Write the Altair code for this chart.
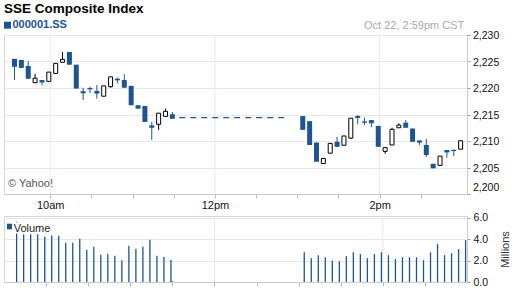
import altair as alt
import pandas as pd

BLUE = "#1c5590"
FONT = "Liberation Sans"
GRID = "#e4e8ee"
FRAME = "#d6d6d6"

title_text = "SSE Composite Index"
symbol_text = "000001.SS"
stamp_text = "Oct 22, 2:59pm CST"
credit_text = "\u00a9 Yahoo!"
volume_label = "Volume"
volume_title = "Millions"

candle_time = [
    "9:34", "9:39", "9:44", "9:49", "9:54", "9:59", "10:04", "10:09", "10:14", "10:19",
    "10:24", "10:29", "10:34", "10:39", "10:44", "10:49", "10:54", "10:59", "11:04", "11:09",
    "11:14", "11:19", "11:24", "11:29",
    "13:04", "13:09", "13:14", "13:19", "13:24", "13:29", "13:34", "13:39", "13:44", "13:49",
    "13:54", "13:59", "14:04", "14:09", "14:14", "14:19", "14:24", "14:29", "14:34", "14:39",
    "14:44", "14:49", "14:54", "14:59",
]
open_ = [
    2225.5, 2225.3, 2224.15, 2221.0, 2221.5, 2221.25, 2222.75, 2224.85, 2226.8, 2224.4,
    2219.4, 2220.0, 2219.45, 2218.45, 2220.25, 2221.75, 2221.5, 2220.4, 2216.75, 2216.6,
    2212.95, 2213.15, 2214.65, 2215.05,
    2214.7, 2213.75, 2209.7, 2205.75, 2207.7, 2209.85, 2209.2, 2210.55, 2214.7, 2213.7,
    2213.95, 2212.85, 2208.05, 2209.25, 2212.5, 2213.45, 2212.35, 2210.1, 2209.25, 2205.7,
    2205.4, 2208.3, 2208.35, 2208.45,
]
close = [
    2224.0, 2223.8, 2221.75, 2221.85, 2221.05, 2223.0, 2224.65, 2225.4, 2224.4, 2219.9,
    2219.0, 2219.75, 2218.95, 2220.4, 2222.1, 2221.45, 2220.05, 2216.75, 2216.1, 2213.6,
    2212.5, 2215.25, 2215.6, 2214.2,
    2212.1, 2209.25, 2206.1, 2206.7, 2209.55, 2208.9, 2210.95, 2214.3, 2214.35, 2213.45,
    2213.35, 2208.9, 2208.75, 2212.2, 2213.0, 2212.5, 2209.85, 2209.7, 2207.35, 2204.85,
    2207.15, 2207.85, 2208.1, 2210.05,
]
high = [
    2225.5, 2225.3, 2225.1, 2222.7, 2221.5, 2223.0, 2224.65, 2226.8, 2226.8, 2224.4,
    2220.05, 2220.25, 2220.55, 2220.4, 2222.1, 2221.95, 2222.6, 2220.4, 2216.75, 2216.6,
    2213.6, 2215.25, 2216.1, 2215.45,
    2214.7, 2213.75, 2209.7, 2206.7, 2209.55, 2210.8, 2210.95, 2214.3, 2214.9, 2214.4,
    2213.95, 2212.85, 2208.75, 2212.5, 2213.35, 2213.95, 2212.35, 2210.1, 2210.4, 2205.7,
    2207.15, 2208.3, 2208.35, 2210.05,
]
low = [
    2221.5, 2223.8, 2221.75, 2221.0, 2220.5, 2221.25, 2222.75, 2224.85, 2224.4, 2219.9,
    2217.75, 2219.05, 2218.0, 2218.45, 2220.05, 2220.9, 2220.05, 2216.75, 2216.1, 2213.6,
    2210.2, 2212.1, 2214.65, 2214.2,
    2212.1, 2209.25, 2206.1, 2205.65, 2207.7, 2208.9, 2209.2, 2210.4, 2213.15, 2213.0,
    2212.6, 2208.9, 2207.6, 2209.25, 2212.5, 2212.5, 2209.85, 2209.25, 2207.0, 2204.85,
    2205.4, 2206.85, 2207.15, 2208.45,
]

volume_time = [
    "9:39", "9:44", "9:49", "9:54", "9:59", "10:04", "10:09", "10:14", "10:19", "10:24",
    "10:29", "10:34", "10:39", "10:44", "10:49", "10:54", "10:59", "11:04", "11:09", "11:14",
    "11:19", "11:24", "11:29", "11:30",
    "13:04", "13:09", "13:14", "13:19", "13:24", "13:29", "13:34", "13:39", "13:44", "13:49",
    "13:54", "13:59", "14:04", "14:09", "14:14", "14:19", "14:24", "14:29", "14:34", "14:39",
    "14:44", "14:49", "14:54", "14:59",
]
volume_millions = [
    5.6, 4.44, 4.44, 4.44, 4.22, 4.34, 4.31, 3.66, 3.66, 4.03,
    3.0, 3.28, 2.53, 2.62, 2.44, 2.03, 3.37, 3.09, 3.28, 3.94,
    2.44, 2.34, 2.06, 0.07,
    2.78, 2.22, 2.5, 2.31, 2.0, 1.94, 2.41, 2.78, 2.6, 2.22,
    2.6, 2.78, 2.5, 2.13, 2.31, 2.31, 2.31, 2.03, 2.78, 3.53,
    2.5, 2.69, 3.06, 3.9,
]

lunch_start = ["11:34"]
lunch_end = ["12:54"]
lunch_level = [2214.4]

grid_times = ["10:00", "12:00", "14:00"]
tick_times = ["10:00", "10:30", "11:00", "11:30", "12:00", "12:30", "13:00", "13:30",
              "14:00", "14:30"]
tick_names = {"10:00": "10am", "12:00": "12pm", "14:00": "2pm"}
price_domain = [2200, 2230]
price_ticks = [2200, 2205, 2210, 2215, 2220, 2225, 2230]
volume_ticks = [0, 2, 4, 6]


def minutes(t):
    h, m = t.split(":")
    return int(h) * 60 + int(m) - (9 * 60 + 30)


candles = pd.DataFrame({
    "t": [minutes(t) for t in candle_time],
    "open": open_, "close": close, "high": high, "low": low,
})
candles["dir"] = ["down" if c < o else "up" for o, c in zip(open_, close)]
vol = pd.DataFrame({"t": [minutes(t) for t in volume_time], "v": volume_millions})
lunch = pd.DataFrame({"t0": [minutes(t) for t in lunch_start],
                      "t1": [minutes(t) for t in lunch_end], "y": lunch_level})
vgrid = pd.DataFrame({"t": [minutes(t) for t in grid_times]})
plabels = pd.DataFrame({"p": price_ticks})

tick_vals = [minutes(t) for t in tick_times]
label_expr = " : ".join(
    f"datum.value == {minutes(k)} ? '{v}'" for k, v in tick_names.items()) + " : ''"

xscale = alt.Scale(domain=[0, 330], nice=False, zero=False)
x_axis_top = alt.Axis(values=tick_vals, labelExpr=label_expr, grid=False, title=None,
                      tickSize=4, tickColor="#bbbbbb", domainColor="#cccccc",
                      labelFont=FONT, labelFontSize=11, labelColor="#111111",
                      labelPadding=1, labelFlush=False)
x_axis_bottom = alt.Axis(values=tick_vals, labels=False, grid=False, title=None,
                         tickSize=4, tickColor="#bbbbbb", domainColor="#cccccc")

pscale = alt.Scale(domain=price_domain, nice=False, zero=False)
p_axis = alt.Axis(orient="right", values=price_ticks, labels=False, title=None,
                  grid=True, gridColor=GRID, tickSize=3, tickColor="#999999",
                  domainColor="#cccccc")


def xt(field="t"):
    return alt.X(f"{field}:Q", scale=xscale, axis=x_axis_top)


def yp(field):
    return alt.Y(f"{field}:Q", scale=pscale, axis=p_axis)


W, H1, H2 = 463, 159, 66

rules_top = alt.Chart(vgrid).mark_rule(color=GRID).encode(x=xt())

wicks = alt.Chart(candles).mark_rule(strokeWidth=1).encode(
    x=xt(),
    y=yp("low"),
    y2="high:Q",
    color=alt.Color("dir:N", scale=alt.Scale(domain=["down", "up"], range=[BLUE, "#000000"]),
                    legend=None),
)
down_bodies = alt.Chart(candles).transform_filter("datum.dir == 'down'").mark_bar(
    size=5, color=BLUE).encode(x=xt(), y=yp("open"), y2="close:Q")
up_bodies = alt.Chart(candles).transform_filter("datum.dir == 'up'").mark_bar(
    size=4, fill="#ffffff", stroke="#000000", strokeWidth=1).encode(
    x=xt(), y=yp("open"), y2="close:Q")
lunch_line = alt.Chart(lunch).mark_rule(color=BLUE, strokeWidth=1.2, strokeDash=[6, 5]).encode(
    x=xt("t0"), x2="t1:Q", y=yp("y"))

price_labels_mid = alt.Chart(plabels).transform_filter("datum.p > 2200").mark_text(
    font=FONT, fontSize=10.5, color="#111111", align="left", baseline="middle", dy=1).encode(
    y=yp("p"), x=alt.value(W + 6), text=alt.Text("p:Q", format=","))
price_labels_low = alt.Chart(plabels).transform_filter("datum.p == 2200").mark_text(
    font=FONT, fontSize=10.5, color="#111111", align="left", baseline="bottom", dy=-1).encode(
    y=yp("p"), x=alt.value(W + 6), text=alt.Text("p:Q", format=","))


def text_layer(txt, x, y, size, color, weight="normal", align="left", baseline="alphabetic"):
    return alt.Chart(pd.DataFrame({"s": [txt]})).mark_text(
        font=FONT, fontSize=size, fontWeight=weight, color=color, align=align,
        baseline=baseline).encode(text="s:N", x=alt.value(x), y=alt.value(y))


def box(x0, x1, y0, y1, color):
    return alt.Chart(pd.DataFrame({"k": [0]})).mark_rect(color=color).encode(
        x=alt.value(x0), x2=alt.value(x1), y=alt.value(y0), y2=alt.value(y1))


top = alt.layer(
    rules_top, wicks, down_bodies, up_bodies, lunch_line,
    price_labels_mid, price_labels_low,
    text_layer(title_text, 0, -32.6, 13.5, "#000000", weight="bold", baseline="top"),
    box(0, 7, -13.3, -6.3, BLUE),
    text_layer(symbol_text, 8.5, -6.7, 11, BLUE, weight="bold"),
    text_layer(stamp_text, 460.3, -5.7, 11, "#aaaaaa", align="right"),
    text_layer(credit_text, 4, 152, 11, "#555555"),
).properties(width=W, height=H1)

v_axis = alt.Axis(orient="right", values=volume_ticks, format=".1f",
                  title=volume_title, titleAngle=270, titleFont=FONT,
                  titleFontSize=11, titleFontWeight="normal", titleColor="#333333",
                  titlePadding=23, grid=True, gridColor=GRID, tickSize=3,
                  tickColor="#999999", domainColor="#cccccc", labelPadding=3,
                  labelFont=FONT, labelFontSize=10.5, labelColor="#111111",
                  labelOverlap=False)

rules_bottom = alt.Chart(vgrid).mark_rule(color=GRID).encode(
    x=alt.X("t:Q", scale=xscale, axis=x_axis_bottom))
vbars = alt.Chart(vol).mark_rule(color=BLUE, strokeWidth=1.3).encode(
    x=alt.X("t:Q", scale=xscale, axis=x_axis_bottom),
    y=alt.Y("v:Q", scale=alt.Scale(domain=[0, 6.15], nice=False), axis=v_axis),
    y2=alt.datum(0),
)
bottom = alt.layer(
    rules_bottom, vbars,
    box(1, 49, 6.5, 17.5, "#ffffff"),
    box(3, 8, 7.7, 13.3, BLUE),
    text_layer(volume_label, 9.7, 15.5, 11, "#222222"),
).properties(width=W, height=H2)

chart = alt.vconcat(top, bottom, spacing=22, bounds="flush").properties(
    padding={"left": 3, "top": 1, "right": 0, "bottom": 0}
).configure_view(stroke=FRAME)

chart.save("out.html", embed_options={"renderer": "svg", "actions": False})
